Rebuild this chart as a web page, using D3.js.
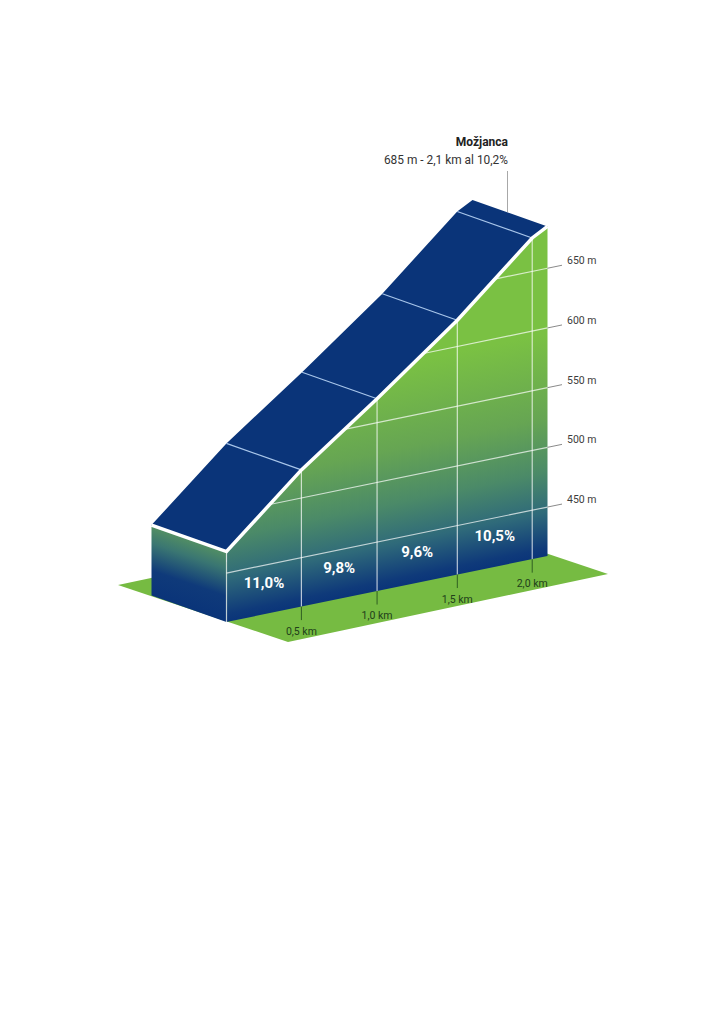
<!DOCTYPE html>
<html>
<head>
<meta charset="utf-8">
<script src="https://cdn.jsdelivr.net/npm/d3@7"></script>
<style>
  html, body { margin: 0; padding: 0; background: #fff; }
  svg { display: block; }
  text { font-family: Roboto, "Noto Sans", sans-serif; }
</style>
</head>
<body>
<div id="chart"></div>
<script>
// profile stations: distance (km) and altitude (m)
const stationKm = [0, 0.49, 0.985, 1.51, 2.0, 2.1];
const stationAlt = [468, 523.5, 570, 622, 678, 685];

const kmTicks = [0.49, 0.985, 1.51, 2.0];
const kmLabels = ["0,5 km", "1,0 km", "1,5 km", "2,0 km"];
const altTicks = [450, 500, 550, 600, 650];
const gradeLabels = ["11,0%", "9,8%", "9,6%", "10,5%"];

const climbName = "Možjanca";
const climbInfo = "685 m - 2,1 km al 10,2%";

const navy = "#0a3479", green = "#7ac143", groundGreen = "#76bb42";

const svg = d3.select("#chart").append("svg")
  .attr("width", 720)
  .attr("height", 1018);

// scales for the oblique projection
const baseAlt = 409;
const x = d3.scaleLinear().domain([0, 2.1]).range([226.5, 547.5]);
const yBase = d3.scaleLinear().domain([0, 2.1]).range([622, 556]);
const h = d3.scaleLinear().domain([baseAlt, baseAlt + 100]).range([0, 119.4]);
const depth = {x: -75, y: -26.5};

const pt = (km, alt) => [x(km), yBase(km) - h(alt)];
const kmAtAlt = d3.scaleLinear().domain(stationAlt).range(stationKm);
const altAtKm = d3.scaleLinear().domain(stationKm).range(stationAlt);
const line = d3.line();

// gradients follow the tilt of each wall
const defs = svg.append("defs");
function wallGradient(id, p0, p1, stops) {
  const g = defs.append("linearGradient").attr("id", id)
    .attr("gradientUnits", "userSpaceOnUse")
    .attr("x1", p0[0]).attr("y1", p0[1])
    .attr("x2", p1[0]).attr("y2", p1[1]);
  stops.forEach(s => g.append("stop").attr("offset", s[0]).attr("stop-color", s[1]));
}
wallGradient("front", [390, 589], [346, 375],
  [[0, navy], [0.04, "#0f3a7a"], [0.2, "#2f6a7a"], [0.38, "#4b8a68"], [0.62, "#66a553"], [1, green]]);
wallGradient("side", [172, 603], [198, 527],
  [[0, navy], [0.3, "#0f3a7a"], [0.62, "#3a7672"], [1, "#68a556"]]);

// ground
const gl = [118, 585], gb = [288, 642], gr = [608, 574];
svg.append("path")
  .attr("d", line([gl, gb, gr, [gr[0] - 170, gr[1] - 57]]) + "Z")
  .attr("fill", groundGreen);

// side wall
const f0 = pt(0, stationAlt[0]);
svg.append("path")
  .attr("d", line([
    [x(0) + depth.x, yBase(0) + depth.y],
    [x(0), yBase(0)],
    f0,
    [f0[0] + depth.x, f0[1] + depth.y]
  ]) + "Z")
  .attr("fill", "url(#side)");

// front wall
const profile = stationKm.map((k, i) => pt(k, stationAlt[i]));
svg.append("path")
  .attr("d", line([[x(0), yBase(0)], ...profile, [x(2.1), yBase(2.1)]]) + "Z")
  .attr("fill", "url(#front)");

// roof
const backProfile = profile.map(p => [p[0] + depth.x, p[1] + depth.y]);
svg.append("path")
  .attr("d", line([...profile, ...backProfile.slice().reverse()]) + "Z")
  .attr("fill", navy);

// altitude grid
const altG = svg.append("g");
altTicks.forEach(a => {
  const startKm = a < stationAlt[0] ? 0 : kmAtAlt(a);
  const extKm = x.invert(562);
  altG.append("line")
    .attr("x1", pt(startKm, a)[0]).attr("y1", pt(startKm, a)[1])
    .attr("x2", pt(2.1, a)[0]).attr("y2", pt(2.1, a)[1])
    .attr("stroke", "#fff").attr("stroke-opacity", 0.7).attr("stroke-width", 1.2);
  altG.append("line")
    .attr("x1", pt(2.1, a)[0]).attr("y1", pt(2.1, a)[1])
    .attr("x2", pt(extKm, a)[0]).attr("y2", pt(extKm, a)[1])
    .attr("stroke", "#8a8a8a").attr("stroke-width", 1);
  altG.append("text")
    .attr("x", 567).attr("y", pt(extKm, a)[1] - 1)
    .attr("font-size", 10.5).attr("fill", "#3d3d3d")
    .text(a + " m");
});

// km grid
const kmG = svg.append("g");
kmG.append("line")
  .attr("x1", x(0)).attr("x2", x(0))
  .attr("y1", f0[1]).attr("y2", yBase(0))
  .attr("stroke", "#fff").attr("stroke-opacity", 0.7).attr("stroke-width", 1.2);
kmTicks.forEach((k, i) => {
  const top = pt(k, altAtKm(k));
  kmG.append("line")
    .attr("x1", top[0]).attr("x2", top[0])
    .attr("y1", top[1]).attr("y2", yBase(k))
    .attr("stroke", "#fff").attr("stroke-opacity", 0.7).attr("stroke-width", 1.2);
  kmG.append("line")
    .attr("x1", top[0]).attr("x2", top[0])
    .attr("y1", yBase(k)).attr("y2", yBase(k) + 13.5)
    .attr("stroke", "#2f5f22").attr("stroke-width", 1);
  kmG.append("text")
    .attr("x", top[0]).attr("y", yBase(k) + 28)
    .attr("text-anchor", "middle")
    .attr("font-size", 10.5).attr("fill", "#21401a")
    .text(kmLabels[i]);
  // crossing line on the roof
  kmG.append("line")
    .attr("x1", top[0]).attr("y1", top[1])
    .attr("x2", top[0] + depth.x).attr("y2", top[1] + depth.y)
    .attr("stroke", "#a9c6ea").attr("stroke-width", 1.2);
});

// ridge
svg.append("path")
  .attr("d", line([backProfile[0], ...profile]))
  .attr("fill", "none")
  .attr("stroke", "#fff")
  .attr("stroke-width", 3.5)
  .attr("stroke-linejoin", "miter");

// gradient labels
gradeLabels.forEach((t, i) => {
  const mid = (stationKm[i] + stationKm[i + 1]) / 2;
  svg.append("text")
    .attr("x", x(mid)).attr("y", yBase(mid) - 26)
    .attr("text-anchor", "middle")
    .attr("font-size", 15).attr("font-weight", 700)
    .attr("fill", "#fff")
    .text(t);
});

// climb name and callout
svg.append("line")
  .attr("x1", 507.5).attr("x2", 507.5)
  .attr("y1", 171).attr("y2", 212)
  .attr("stroke", "#a8a8a8").attr("stroke-width", 1);
svg.append("text")
  .attr("x", 508).attr("y", 146)
  .attr("text-anchor", "end")
  .attr("font-size", 12).attr("font-weight", 700).attr("fill", "#222")
  .text(climbName);
svg.append("text")
  .attr("x", 508).attr("y", 164)
  .attr("text-anchor", "end")
  .attr("font-size", 11.9).attr("fill", "#333")
  .text(climbInfo);
</script>
</body>
</html>
